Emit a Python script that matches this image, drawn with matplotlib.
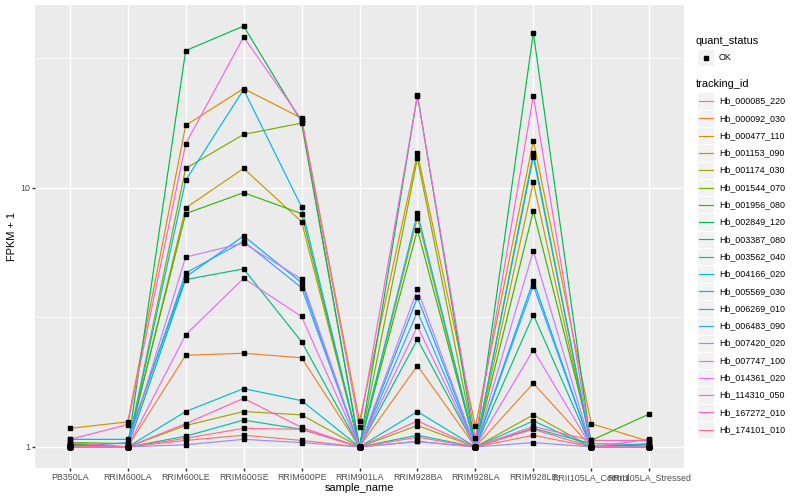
import matplotlib
matplotlib.use("Agg")
import matplotlib.pyplot as plt
from matplotlib.patches import Rectangle
from matplotlib.lines import Line2D
from matplotlib.ticker import NullLocator
import numpy as np

plt.rcParams["font.family"] = ["Liberation Sans", "DejaVu Sans"]

sample_names = ["PB350LA", "RRIM600LA", "RRIM600LE", "RRIM600SE", "RRIM600PE",
                "RRIM901LA", "RRIM928BA", "RRIM928LA", "RRIM928LE",
                "RRII105LA_Control", "RRII105LA_Stressed"]

tracking_ids = ["Hb_000085_220", "Hb_000092_030", "Hb_000477_110", "Hb_001153_090",
                "Hb_001174_030", "Hb_001544_070", "Hb_001956_080", "Hb_002849_120",
                "Hb_003387_080", "Hb_003562_040", "Hb_004166_020", "Hb_005569_030",
                "Hb_006269_010", "Hb_006483_090", "Hb_007420_020", "Hb_007747_100",
                "Hb_014361_020", "Hb_114310_050", "Hb_167272_010", "Hb_174101_010"]

# ggplot default hue palette for 20 levels
colors = ["#F8766D", "#EA8331", "#D89000", "#C09B00", "#A3A500", "#7CAE00", "#39B600",
          "#00BB4E", "#00BF7D", "#00C1A3", "#00BFC4", "#00BAE0", "#00B0F6", "#35A2FF",
          "#9590FF", "#C77CFF", "#E76BF3", "#FA62DB", "#FF62BC", "#FF6C91"]

# FPKM + 1 per sample (same order as sample_names)
hb_000085_220 = [1.01, 1.00, 1.06, 1.11, 1.06, 1.00, 1.05, 1.00, 1.11, 1.00, 1.00]
hb_000092_030 = [1.00, 1.00, 2.26, 2.30, 2.21, 1.00, 2.06, 1.00, 1.76, 1.00, 1.00]
hb_000477_110 = [1.18, 1.25, 17.45, 24.2, 18.6, 1.26, 13.6, 1.20, 15.2, 1.23, 1.05]
hb_001153_090 = [1.02, 1.00, 8.37, 11.9, 7.41, 1.00, 7.68, 1.00, 10.5, 1.01, 1.00]
hb_001174_030 = [1.00, 1.00, 1.21, 1.37, 1.33, 1.00, 1.21, 1.00, 1.33, 1.00, 1.00]
hb_001544_070 = [1.03, 1.00, 11.9, 16.1, 17.8, 1.00, 13.0, 1.00, 13.6, 1.00, 1.00]
hb_001956_080 = [1.04, 1.03, 7.96, 9.59, 7.96, 1.00, 6.90, 1.00, 8.15, 1.06, 1.34]
hb_002849_120 = [1.02, 1.00, 33.9, 42.2, 18.0, 1.00, 22.9, 1.00, 39.8, 1.00, 1.02]
hb_003387_080 = [1.01, 1.00, 4.43, 4.87, 2.55, 1.00, 2.60, 1.00, 3.24, 1.00, 1.00]
hb_003562_040 = [1.00, 1.00, 1.10, 1.27, 1.17, 1.00, 1.11, 1.00, 1.18, 1.03, 1.02]
hb_004166_020 = [1.00, 1.00, 1.37, 1.68, 1.51, 1.00, 1.37, 1.00, 1.26, 1.00, 1.03]
hb_005569_030 = [1.00, 1.00, 10.7, 24.0, 8.45, 1.00, 8.03, 1.00, 13.2, 1.00, 1.00]
hb_006269_010 = [1.07, 1.07, 4.53, 6.53, 4.31, 1.00, 3.78, 1.00, 4.39, 1.00, 1.00]
hb_006483_090 = [1.00, 1.04, 4.70, 6.22, 4.12, 1.00, 3.33, 1.00, 4.20, 1.00, 1.00]
hb_007420_020 = [1.00, 1.00, 1.02, 1.07, 1.04, 1.00, 1.05, 1.00, 1.04, 1.00, 1.00]
hb_007747_100 = [1.00, 1.00, 5.41, 6.13, 4.45, 1.00, 4.06, 1.00, 5.71, 1.00, 1.00]
hb_014361_020 = [1.00, 1.00, 2.71, 4.48, 3.19, 1.00, 2.92, 1.00, 2.37, 1.00, 1.00]
hb_114310_050 = [1.07, 1.22, 14.8, 38.3, 18.35, 1.19, 22.7, 1.08, 22.7, 1.00, 1.07]
hb_167272_010 = [1.04, 1.00, 1.23, 1.54, 1.19, 1.00, 1.26, 1.00, 1.20, 1.06, 1.06]
hb_174101_010 = [1.00, 1.00, 1.08, 1.18, 1.17, 1.00, 1.09, 1.00, 1.17, 1.00, 1.00]

series = [hb_000085_220, hb_000092_030, hb_000477_110, hb_001153_090, hb_001174_030,
          hb_001544_070, hb_001956_080, hb_002849_120, hb_003387_080, hb_003562_040,
          hb_004166_020, hb_005569_030, hb_006269_010, hb_006483_090, hb_007420_020,
          hb_007747_100, hb_014361_020, hb_114310_050, hb_167272_010, hb_174101_010]

W, H = 800, 500


def fx(px):
    return px / W


def fy(py):
    return 1 - py / H


fig = plt.figure(figsize=(8, 5), dpi=100)
ax = fig.add_axes([fx(35), fy(468), fx(684) - fx(35), fy(5) - fy(468)])
ax.set_facecolor("#EBEBEB")

x = np.arange(len(sample_names))
for vals, c in zip(series, colors):
    ax.plot(x, vals, color=c, lw=0.85, zorder=3)
for vals in series:
    ax.plot(x, vals, ls="none", marker="s", ms=2.3, color="black", zorder=4)

# log10 scale with ggplot's 5% expansion
ax.set_yscale("log")
lo = np.log10(min(min(s) for s in series))
hi = np.log10(max(max(s) for s in series))
pad = 0.05 * (hi - lo)
ax.set_ylim(10 ** (lo - pad), 10 ** (hi + pad))
ax.set_xlim(-0.6, len(sample_names) - 1 + 0.6)

ax.set_yticks([1, 10])
ax.set_yticklabels(["1", "10"])
ax.set_yticks([10 ** 0.5, 10 ** 1.5], minor=True)
ax.xaxis.set_minor_locator(NullLocator())
ax.set_xticks(x)
ax.set_xticklabels(sample_names)
ax.tick_params(axis="both", which="major", length=2.0, width=1.0, color="#333333",
               labelsize=6.4, labelcolor="#4D4D4D", pad=1.6)
ax.tick_params(axis="both", which="minor", length=0)

ax.grid(True, which="major", color="white", lw=1.0, zorder=0)
ax.grid(True, which="minor", axis="y", color="white", lw=0.5, zorder=0)
ax.set_axisbelow(True)
for sp in ax.spines.values():
    sp.set_visible(False)

ax.set_xlabel("sample_name", fontsize=7.9)
ax.set_ylabel("FPKM + 1", fontsize=7.9)
ax.xaxis.set_label_coords((359 - 35) / 649, (468 - 488) / 463)
ax.xaxis.label.set_va("center")
ax.yaxis.set_label_coords((12 - 35) / 649, (468 - 236) / 463)
ax.yaxis.label.set_va("center")

# legend, drawn by hand in ggplot style
key = 17.3
kx = 697
fig.text(fx(696), fy(41), "quant_status", fontsize=7.9, va="center", ha="left")
fig.add_artist(Rectangle((fx(kx), fy(57.5 + key / 2)), key / W, key / H,
                         transform=fig.transFigure, facecolor="#F2F2F2",
                         edgecolor="white", lw=0.8))
fig.add_artist(Line2D([fx(kx + key / 2)], [fy(57.5)], transform=fig.transFigure,
                      marker="s", ms=2.3, color="black", ls="none"))
fig.text(fx(719), fy(57.5), "OK", fontsize=6.4, va="center", ha="left")

fig.text(fx(696), fy(84), "tracking_id", fontsize=7.9, va="center", ha="left")
for i, (tid, c) in enumerate(zip(tracking_ids, colors)):
    cy = 101 + key * i
    fig.add_artist(Rectangle((fx(kx), fy(cy + key / 2)), key / W, key / H,
                             transform=fig.transFigure, facecolor="#F2F2F2",
                             edgecolor="white", lw=0.8))
    fig.add_artist(Line2D([fx(kx + 1.7), fx(kx + key - 1.7)], [fy(cy), fy(cy)],
                          transform=fig.transFigure, color=c, lw=0.85))
    fig.text(fx(719), fy(cy), tid, fontsize=6.4, va="center", ha="left")

fig.savefig("out.png", dpi=100)
